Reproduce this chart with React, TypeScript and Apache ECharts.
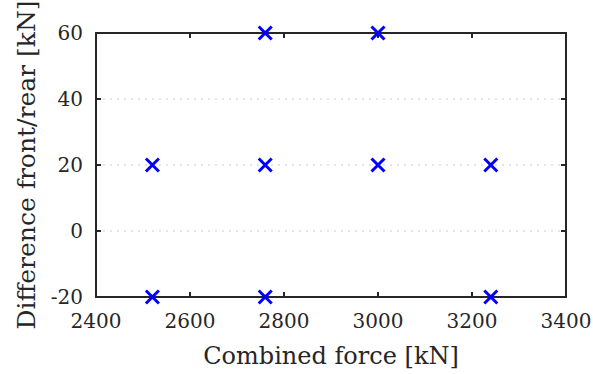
import React, { useEffect, useRef } from "react";
import * as echarts from "echarts";

const xValues = [2520, 2520, 2760, 2760, 2760, 3000, 3000, 3240, 3240];
const yValues = [20, -20, 60, 20, -20, 60, 20, 20, -20];
const xTicks = { min: 2400, max: 3400, interval: 200 };
const yTicks = { min: -20, max: 60, interval: 20 };

const FONT = "DejaVu Serif";
const AX = "#262626";

export default function App() {
  const ref = useRef<HTMLDivElement>(null);
  useEffect(() => {
    const chart = echarts.init(ref.current!, undefined, { renderer: "svg" });
    const data = xValues.map((x, i) => [x, yValues[i]]);
    const axisLine = { show: true, onZero: false, lineStyle: { color: AX, width: 2 } };
    const axisTick = { show: true, inside: true, length: 5, lineStyle: { color: AX, width: 2 } };
    const fmt = (v: number) => String(v);
    chart.setOption({
      animation: false,
      grid: { left: 96, right: 27, top: 33, bottom: 77, containLabel: false, outerBoundsMode: "none" },
      xAxis: [
        {
          type: "value",
          min: xTicks.min,
          max: xTicks.max,
          interval: xTicks.interval,
          position: "bottom",
          name: "Combined force [kN]",
          nameLocation: "middle",
          nameGap: 47,
          nameTextStyle: { fontFamily: FONT, fontSize: 24, color: AX },
          axisLine,
          axisTick,
          axisLabel: { color: AX, fontSize: 20, fontFamily: FONT, margin: 14, formatter: fmt },
          splitLine: { show: false },
        },
        {
          type: "value",
          min: xTicks.min,
          max: xTicks.max,
          interval: xTicks.interval,
          position: "top",
          axisLine,
          axisTick,
          axisLabel: { show: false },
          splitLine: { show: false },
        },
      ],
      yAxis: [
        {
          type: "value",
          min: yTicks.min,
          max: yTicks.max,
          interval: yTicks.interval,
          position: "left",
          name: "Difference front/rear [kN]",
          nameLocation: "middle",
          nameGap: 57,
          nameTextStyle: { fontFamily: FONT, fontSize: 25, color: AX },
          axisLine,
          axisTick,
          axisLabel: { color: AX, fontSize: 20, fontFamily: FONT, margin: 13, formatter: fmt },
          splitLine: { show: true, lineStyle: { color: "#dcdcdc", type: [2, 5], width: 1.5 } },
        },
        {
          type: "value",
          min: yTicks.min,
          max: yTicks.max,
          interval: yTicks.interval,
          position: "right",
          axisLine,
          axisTick,
          axisLabel: { show: false },
          splitLine: { show: false },
        },
      ],
      series: [
        {
          type: "scatter",
          data,
          clip: false,
          symbol: "path://M0,0L10,10M10,0L0,10",
          symbolSize: 13,
          itemStyle: { color: "none", borderColor: "#0000ff", borderWidth: 3, opacity: 1 },
          z: 10,
        },
      ],
    });
    return () => chart.dispose();
  }, []);
  return <div ref={ref} style={{ width: 593, height: 374, position: "absolute", left: 0, top: 0 }} />;
}
